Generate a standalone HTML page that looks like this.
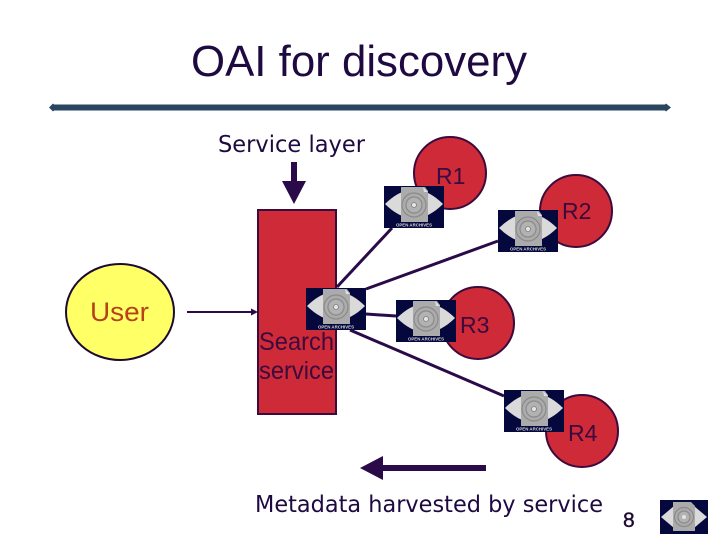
<!DOCTYPE html>
<html>
<head>
<meta charset="utf-8">
<style>
html,body{margin:0;padding:0;background:#fff;width:720px;height:540px;overflow:hidden}
svg{display:block}
text{font-family:"Liberation Sans",sans-serif}
.h{font-family:"DejaVu Sans",sans-serif}
</style>
</head>
<body>
<svg width="720" height="540" viewBox="0 0 720 540" xmlns="http://www.w3.org/2000/svg">
<defs>
<symbol id="logo" viewBox="0 0 60 42" width="60" height="42" overflow="visible">
  <rect width="60" height="42" fill="#04083c"/>
  <path d="M1 18 Q14 5 29 3 L31 3 Q46 5 59 18 Q46 31 31 33 L29 33 Q14 31 1 18Z" fill="#dadada"/>
  <path d="M17 1 L41 1 L44 5 L44 36 L17 36Z" fill="#ababab"/>
  <path d="M39 1 L44 6 L40 6Z" fill="#e0e0e0"/>
  <circle cx="30" cy="19" r="12" fill="none" stroke="#8a8a8a" stroke-width="1.2"/>
  <circle cx="30" cy="19" r="8" fill="#b2b2b2" stroke="#8a8a8a" stroke-width="1.2"/>
  <circle cx="30" cy="19" r="2.5" fill="#e4e4e4" stroke="#7c7c7c" stroke-width="0.8"/>
  <text x="30" y="40.5" font-size="4.8" font-weight="700" fill="#d8d8d8" text-anchor="middle" textLength="36" lengthAdjust="spacingAndGlyphs">OPEN ARCHIVES</text>
</symbol>
</defs>

<text x="191" y="76" font-size="44" fill="#1e0a40" textLength="336" lengthAdjust="spacingAndGlyphs">OAI for discovery</text>

<rect x="52" y="104.5" width="615" height="6" fill="#2a4560"/>
<path d="M49 107.5 L53 103.5 L57 107.5 L53 111.5Z" fill="#2a4560"/>
<path d="M662 107.5 L666 103.5 L671 107.5 L666 111.5Z" fill="#2a4560"/>

<text class="h" x="218" y="152" font-size="23" fill="#1e0a40" textLength="147" lengthAdjust="spacingAndGlyphs">Service layer</text>

<path d="M291 162 H297 V181 H306 L294 204 L282 181 H291Z" fill="#2a0a48"/>

<circle cx="450" cy="173" r="36" fill="#cf2a38" stroke="#3c0a3c" stroke-width="2"/>
<circle cx="576" cy="211" r="36" fill="#cf2a38" stroke="#3c0a3c" stroke-width="2"/>
<circle cx="478" cy="323" r="36" fill="#cf2a38" stroke="#3c0a3c" stroke-width="2"/>
<circle cx="582" cy="431" r="36" fill="#cf2a38" stroke="#3c0a3c" stroke-width="2"/>

<text x="436" y="184" font-size="23" fill="#3c0a3c">R1</text>
<text x="562" y="219" font-size="23" fill="#3c0a3c">R2</text>
<text x="460" y="333" font-size="23" fill="#3c0a3c">R3</text>
<text x="568" y="441" font-size="23" fill="#3c0a3c">R4</text>

<rect x="258" y="210" width="78" height="204" fill="#cf2a38" stroke="#3c0a3c" stroke-width="2"/>

<ellipse cx="120" cy="312" rx="54" ry="48" fill="#ffff66" stroke="#1e0a30" stroke-width="2"/>
<text x="90" y="321" font-size="27" fill="#b8401a" textLength="59" lengthAdjust="spacingAndGlyphs">User</text>

<line x1="187" y1="312" x2="254" y2="312" stroke="#2a0a48" stroke-width="2"/>
<path d="M251 308.5 L258 312 L251 315.5Z" fill="#2a0a48"/>

<g stroke="#2a0a48" stroke-width="3" fill="none">
  <line x1="337" y1="287" x2="392" y2="228"/>
  <line x1="366" y1="289" x2="498" y2="241"/>
  <line x1="366" y1="314" x2="396" y2="316"/>
  <line x1="350" y1="330" x2="504" y2="396"/>
</g>

<use href="#logo" x="384" y="186"/>
<use href="#logo" x="498" y="210"/>
<use href="#logo" x="306" y="288"/>
<use href="#logo" x="396" y="300"/>
<use href="#logo" x="504" y="390"/>

<text x="259" y="350" font-size="25" fill="#3c0a3c" textLength="75" lengthAdjust="spacingAndGlyphs">Search</text>
<text x="259" y="379" font-size="25" fill="#3c0a3c" textLength="75" lengthAdjust="spacingAndGlyphs">service</text>

<path d="M486 465 V471 H383 V480 L360 468 L383 456 V465Z" fill="#2a0a48"/>

<text class="h" x="255" y="512" font-size="23" fill="#1e0a40" textLength="348" lengthAdjust="spacingAndGlyphs">Metadata harvested by service</text>

<text x="623" y="527" font-size="21" fill="#1e0a30" stroke="#1e0a30" stroke-width="0.4">8</text>

<g transform="translate(660,500)">
  <rect width="48" height="34" fill="#04083c"/>
  <path d="M1 17 L14 6 L34 6 L47 17 L34 28 L14 28Z" fill="#dadada"/>
  <path d="M13 2 L31 2 L35 6 L35 31 L13 31Z" fill="#ababab"/>
  <circle cx="24" cy="17" r="9.5" fill="none" stroke="#8a8a8a" stroke-width="1.2"/>
  <circle cx="24" cy="17" r="6" fill="#b2b2b2" stroke="#8a8a8a" stroke-width="1.2"/>
  <circle cx="24" cy="17" r="2" fill="#e4e4e4"/>
</g>
</svg>
</body>
</html>
